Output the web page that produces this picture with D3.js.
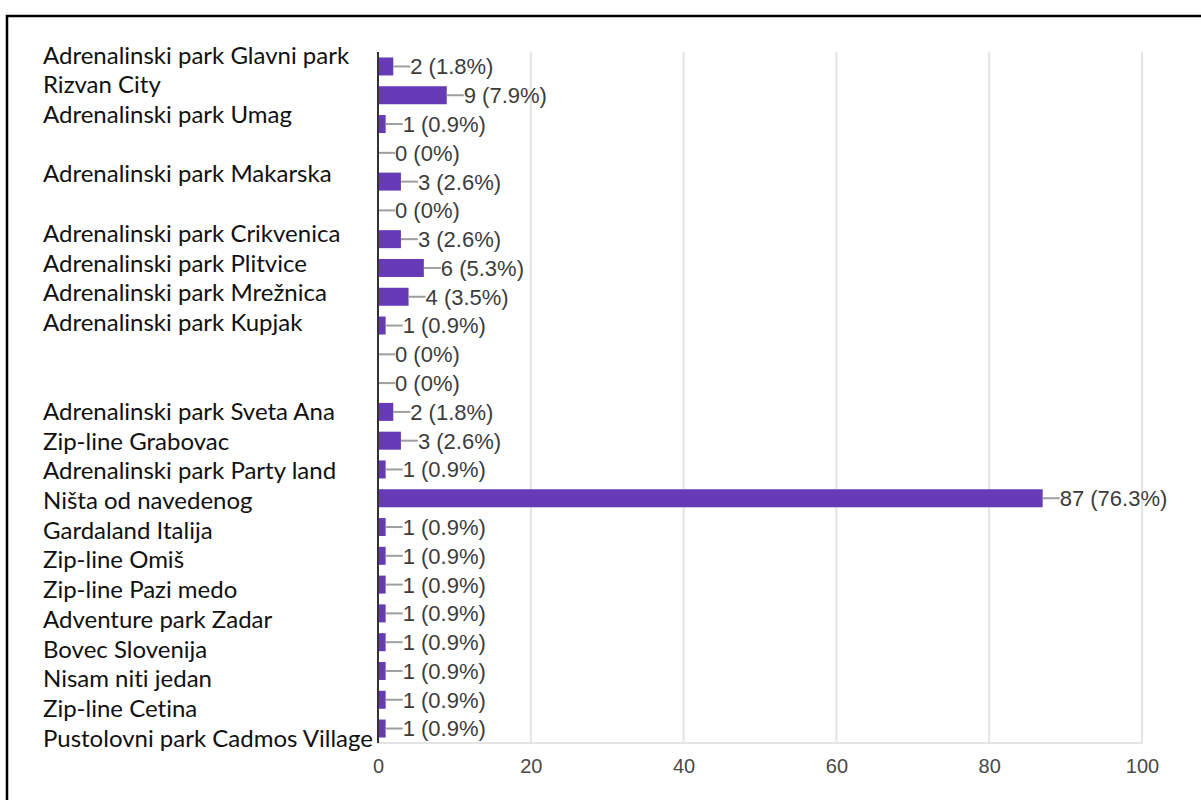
<!DOCTYPE html>
<html>
<head>
<meta charset="utf-8">
<script src="https://cdn.jsdelivr.net/npm/d3@7"></script>
<style>
  body { margin: 0; background: #fff; }
  svg { display: block; }
</style>
</head>
<body>
<svg id="chart" width="1201" height="800"></svg>
<script>
// row labels as pasted next to the bars (some rows have no label)
var labels = [
  "Adrenalinski park Glavni park", "Rizvan City", "Adrenalinski park Umag", "",
  "Adrenalinski park Makarska", "", "Adrenalinski park Crikvenica", "Adrenalinski park Plitvice",
  "Adrenalinski park Mrežnica", "Adrenalinski park Kupjak", "", "",
  "Adrenalinski park Sveta Ana", "Zip-line Grabovac", "Adrenalinski park Party land", "Ništa od navedenog",
  "Gardaland Italija", "Zip-line Omiš", "Zip-line Pazi medo", "Adventure park Zadar",
  "Bovec Slovenija", "Nisam niti jedan", "Zip-line Cetina", "Pustolovni park Cadmos Village"
];
var counts   = [2, 9, 1, 0, 3, 0, 3, 6, 4, 1, 0, 0, 2, 3, 1, 87, 1, 1, 1, 1, 1, 1, 1, 1];
var percents = [1.8, 7.9, 0.9, 0, 2.6, 0, 2.6, 5.3, 3.5, 0.9, 0, 0, 1.8, 2.6, 0.9, 76.3, 0.9, 0.9, 0.9, 0.9, 0.9, 0.9, 0.9, 0.9];
var ticks = [0, 20, 40, 60, 80, 100];

var svg = d3.select("#chart"),
    margin = {top: 52, left: 378, right: 59, bottom: 57},
    width = +svg.attr("width") - margin.left - margin.right,
    height = +svg.attr("height") - margin.top - margin.bottom;

var rows = d3.range(counts.length);

// black frame of the screenshot
svg.append("rect")
    .attr("x", 7).attr("y", 16)
    .attr("width", 1210).attr("height", 800)
    .attr("fill", "none")
    .attr("stroke", "#000")
    .attr("stroke-width", 2.5);

var g = svg.append("g").attr("transform", "translate(" + margin.left + "," + margin.top + ")");

var x = d3.scaleLinear().domain([0, 100]).range([0, width]),
    y = d3.scaleBand().domain(rows).range([0, height]).paddingInner(0.375).paddingOuter(0.19);

// the labels were pasted in with a slightly different spacing
var yl = d3.scalePoint().domain(rows).range([55, 738]);

// grid lines
g.append("g")
  .selectAll("line")
  .data(ticks.slice(1))
  .enter().append("line")
    .attr("x1", function(d) { return x(d); })
    .attr("x2", function(d) { return x(d); })
    .attr("y1", 0)
    .attr("y2", height)
    .attr("stroke", "#e4e4e4")
    .attr("stroke-width", 2);

g.append("line")
    .attr("x1", 0).attr("x2", width)
    .attr("y1", height).attr("y2", height)
    .attr("stroke", "#e4e4e4")
    .attr("stroke-width", 2);

// x axis tick labels
var xAxis = g.append("g")
    .attr("transform", "translate(0," + height + ")")
    .call(d3.axisBottom(x).tickValues(ticks).tickSize(0).tickPadding(16));
xAxis.select(".domain").remove();
xAxis.selectAll("text")
    .attr("font-family", "Liberation Sans, Arial, sans-serif")
    .attr("font-size", 20)
    .attr("fill", "#4a4a4a");

// bars
var row = g.selectAll(".row")
  .data(rows)
  .enter().append("g")
    .attr("class", "row");

row.append("rect")
    .attr("x", 0)
    .attr("y", function(i) { return y(i); })
    .attr("width", function(i) { return x(counts[i]); })
    .attr("height", y.bandwidth())
    .attr("fill", "#673ab7");

row.append("line")
    .attr("x1", function(i) { return x(counts[i]); })
    .attr("x2", function(i) { return x(counts[i]) + 17; })
    .attr("y1", function(i) { return y(i) + y.bandwidth() / 2; })
    .attr("y2", function(i) { return y(i) + y.bandwidth() / 2; })
    .attr("stroke", "#9e9e9e")
    .attr("stroke-width", 2);

row.append("text")
    .attr("x", function(i) { return x(counts[i]) + 17; })
    .attr("y", function(i) { return y(i) + y.bandwidth() / 2; })
    .attr("dy", "0.36em")
    .attr("font-family", "Liberation Sans, Arial, sans-serif")
    .attr("font-size", 22)
    .attr("fill", "#3c3c3c")
    .text(function(i) { return counts[i] + " (" + percents[i] + "%)"; });

// y axis line
g.append("line")
    .attr("x1", 0).attr("x2", 0)
    .attr("y1", 0).attr("y2", height)
    .attr("stroke", "#333")
    .attr("stroke-width", 2);

// row labels
svg.append("g")
  .selectAll("text")
  .data(rows.filter(function(i) { return labels[i] !== ""; }))
  .enter().append("text")
    .attr("x", 43)
    .attr("y", function(i) { return yl(i); })
    .attr("dy", "0.36em")
    .attr("font-family", "Lato, sans-serif")
    .attr("font-size", 24)
    .style("font-variant-ligatures", "none")
    .attr("fill", "#111")
    .text(function(i) { return labels[i]; });
</script>
</body>
</html>
